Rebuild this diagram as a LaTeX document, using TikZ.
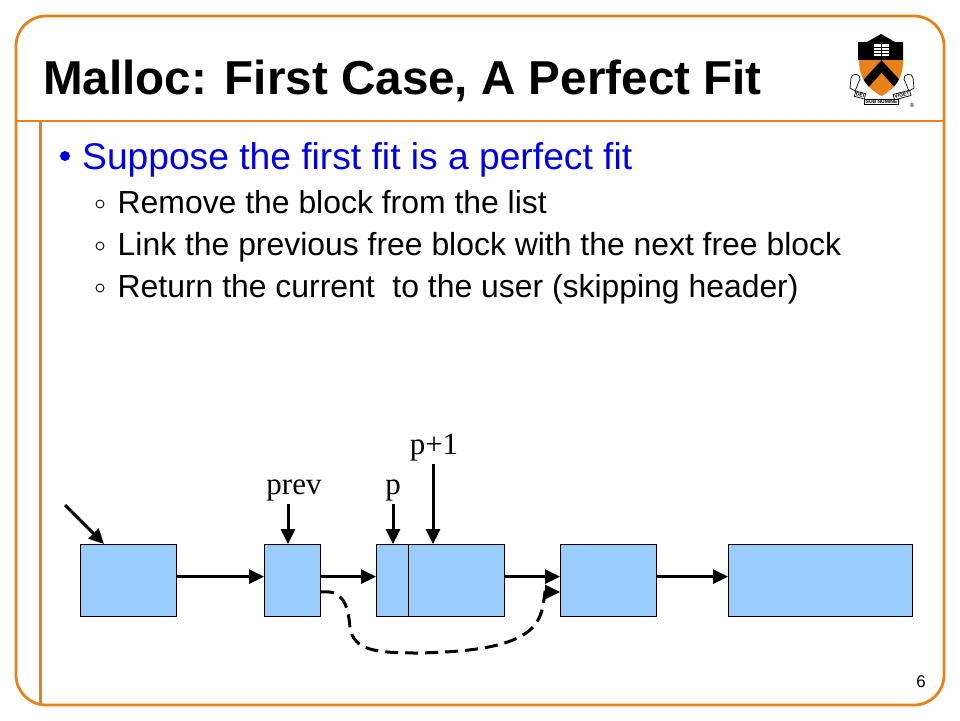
\documentclass[tikz,border=0pt]{standalone}
\usepackage{fontspec}
\setmainfont{Liberation Sans}
\newfontfamily\labelfont{Liberation Serif}
\usetikzlibrary{arrows.meta}
\definecolor{frameorange}{RGB}{232,129,26}
\definecolor{blockblue}{RGB}{153,204,255}
\definecolor{bulletblue}{RGB}{0,0,230}
\tikzset{
    block/.style={draw=black, line width=1.2pt, fill=blockblue, inner sep=0pt, anchor=north west},
    link/.style={line width=3pt, -{Triangle[length=15pt, width=14pt]}},
    sublabel/.style={font=\fontsize{31.9}{32}\selectfont, anchor=base west, inner sep=0pt},
    subbullet/.style={circle, draw=black, line width=0.9pt, minimum size=8pt, inner sep=0pt},
    varlabel/.style={font=\labelfont\fontsize{31}{31}\selectfont, anchor=base, inner sep=0pt},
    ribbon/.style={draw=black, line width=0.7pt, fill=white, font=\bfseries\fontsize{5}{5}\selectfont, inner sep=1pt},
}
\begin{document}
\begin{tikzpicture}[x=1pt, y=-1pt, >=Stealth]
    \useasboundingbox (0, 0) rectangle (960, 720);
    % frame
    \draw [frameorange, line width=2.8pt, rounded corners=30pt] (16, 16) rectangle (944, 705);
    \draw [frameorange, line width=2.8pt] (16, 121) -- (944, 121);
    \draw [frameorange, line width=2.8pt] (40.5, 121) -- (40.5, 705);
    % text
    \node (title) [font=\bfseries\fontsize{47.6}{48}\selectfont, anchor=base west, inner sep=0pt] at (43, 94) {Malloc: First Case, A Perfect Fit};
    \node (bullet) [circle, fill=bulletblue, minimum size=10pt, inner sep=0pt] at (65, 156) {};
    \node (head) [font=\fontsize{37.2}{37}\selectfont, text=bulletblue, anchor=base west, inner sep=0pt] at (82, 169) {Suppose the first fit is a perfect fit};
    \node (bulletA) [subbullet] at (100, 204) {};
    \node (lineA) [sublabel] at (117.5, 213) {Remove the block from the list};
    \node (bulletB) [subbullet] at (100, 246) {};
    \node (lineB) [sublabel] at (117.5, 255) {Link the previous free block with the next free block};
    \node (bulletC) [subbullet] at (100, 288) {};
    \node (lineC) [sublabel] at (117.5, 297) {Return the current\ \ to the user (skipping header)};
    \node (pagenum) [font=\fontsize{17}{17}\selectfont, anchor=base, inner sep=0pt] at (921, 687) {6};
    % crest
    \fill [black] (858, 42) -- (867, 42) -- (881, 34) -- (895, 42) -- (903, 42) -- (903, 60) -- (858, 60) -- cycle;
    \fill [frameorange] (859, 60) -- (903, 60) .. controls (903, 78) and (896, 88) .. (881.5, 96) .. controls (867, 88) and (859, 78) .. (859, 60) -- cycle;
    \begin{scope}
        \clip (859, 60) -- (903, 60) .. controls (903, 78) and (896, 88) .. (881.5, 96) .. controls (867, 88) and (859, 78) .. (859, 60) -- cycle;
        \draw [black, line width=8.5pt] (860, 90) -- (881.5, 66.5) -- (903, 90);
    \end{scope}
    \fill [white] (874, 44) rectangle (889, 56);
    \draw [black, line width=0.8pt] (881.5, 44) -- (881.5, 56) (874, 47) -- (889, 47) (874, 50) -- (889, 50) (874, 53) -- (889, 53);
    \draw [black, line width=0.7pt, fill=white] (851, 78) .. controls (851, 73) and (861, 73) .. (860, 79) -- (855, 91) -- (850, 88) -- cycle;
    \draw [black, line width=0.7pt, fill=white] (913, 78) .. controls (913, 73) and (903, 73) .. (904, 79) -- (909, 91) -- (914, 88) -- cycle;
    \node (mottoA) [ribbon, rotate=-15] at (860, 95) {DEI};
    \node (mottoC) [ribbon, rotate=15] at (902, 95) {VIGET};
    \node (mottoB) [ribbon, rotate=0] at (881.5, 102) {SUB NUMINE};
    \node (regmark) [font=\fontsize{6}{6}\selectfont, inner sep=0pt] at (912, 105) {\textregistered};
    % blocks
    \node (first) [block, minimum width=96pt, minimum height=72pt] at (80, 544) {};
    \node (prevblock) [block, minimum width=56pt, minimum height=72pt] at (264, 544) {};
    \node (header) [block, minimum width=32pt, minimum height=72pt] at (376, 544) {};
    \node (payload) [block, minimum width=96pt, minimum height=72pt] at (408, 544) {};
    \node (nextblock) [block, minimum width=96pt, minimum height=72pt] at (560, 544) {};
    \node (last) [block, minimum width=184pt, minimum height=72pt] at (728, 544) {};
    % labels and free ends
    \node (prevlabel) [varlabel] at (294, 494) {prev};
    \node (plabel) [varlabel] at (393, 494) {p};
    \node (ponelabel) [varlabel] at (434, 454) {p+1};
    \coordinate (startfree) at (65, 505);
    \coordinate (starthit) at (104, 544);
    \coordinate (prevfree) at (288, 504);
    \coordinate (pfree) at (393, 504);
    \coordinate (ponefree) at (433, 464);
    \coordinate (dashstart) at (321, 592);
    \coordinate (dashend) at (560, 592);
    % pointers
    \draw [link] (startfree) -- (starthit);
    \draw [link] (prevfree) -- (prevfree |- prevblock.north);
    \draw [link] (pfree) -- (pfree |- header.north);
    \draw [link] (ponefree) -- (ponefree |- payload.north);
    \draw [link] ([yshift=4pt]first.east) -- ([yshift=4pt]prevblock.west);
    \draw [link] ([yshift=4pt]prevblock.east) -- ([yshift=4pt]header.west);
    \draw [link] ([yshift=4pt]payload.east) -- ([yshift=4pt]nextblock.west);
    \draw [link] ([yshift=4pt]nextblock.east) -- ([yshift=4pt]last.west);
    \draw [link, dash pattern=on 13pt off 7pt] (dashstart) .. controls (340, 590) and (348, 600) .. (350, 628) .. controls (354, 650) and (375, 653) .. (417, 653) .. controls (470, 652) and (510, 647) .. (530, 630) .. controls (543, 618) and (543, 605) .. (545, 592) -- (dashend);
\end{tikzpicture}
\end{document}
